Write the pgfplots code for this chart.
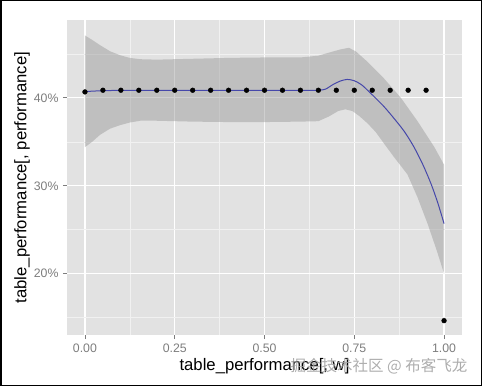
\documentclass[border=0pt]{standalone}
\usepackage{pgfplots}
\pgfplotsset{compat=1.18}
\usepackage{fontspec}
\setmainfont{Liberation Sans}
\newfontfamily\cjk{Noto Sans CJK SC}
\definecolor{panelbg}{RGB}{226,226,226}
\definecolor{minorgrid}{RGB}{241,241,241}
\definecolor{ticktext}{RGB}{125,125,125}
\definecolor{smoothline}{RGB}{70,72,170}
\definecolor{bandfill}{RGB}{150,150,150}
\begin{document}
\begin{tikzpicture}
\begin{axis}[
  at={(67bp,51bp)}, anchor=south west,
  scale only axis, width=395bp, height=315bp,
  xmin=-0.05, xmax=1.05, ymin=13.03, ymax=48.86,
  axis background/.style={fill=panelbg},
  axis line style={draw=none},
  grid=both,
  major grid style={white, line width=1.1bp},
  minor grid style={minorgrid, line width=0.55bp},
  xtick={0,0.25,0.5,0.75,1},
  xticklabels={0.00,0.25,0.50,0.75,1.00},
  minor xtick={0.125,0.375,0.625,0.875},
  ytick={20,30,40},
  yticklabels={20\%,30\%,40\%},
  minor ytick={15,25,35,45},
  tick align=outside, tick pos=left,
  major tick length=4bp, minor tick length=0pt,
  tick style={ticktext, line width=0.8bp},
  ticklabel style={font=\fontsize{12.3bp}{14bp}\selectfont, text=ticktext},
  /pgf/number format/assume math mode=true,
  xticklabel style={yshift=-1bp},
  yticklabel style={xshift=-1bp},
  xlabel={table\_performance[, w]},
  ylabel={table\_performance[, performance]},
  label style={font=\fontsize{16.7bp}{19bp}\selectfont, text=black},
  xlabel style={at={(axis description cs:0.5,-0.098)}, anchor=center},
  ylabel style={at={(axis description cs:-0.114,0.5)}, anchor=center},
]
% data points
\addplot[only marks, mark=*, mark size=2.4bp, black] coordinates {
(0.00,40.68) (0.05,40.87) (0.10,40.87) (0.15,40.87) (0.20,40.87)
(0.25,40.87) (0.30,40.87) (0.35,40.87) (0.40,40.87) (0.45,40.87)
(0.50,40.87) (0.55,40.87) (0.60,40.87) (0.65,40.87) (0.70,40.87)
(0.75,40.87) (0.80,40.87) (0.85,40.87) (0.90,40.87) (0.95,40.87)
(1.00,14.66)};
% confidence band: upper edge left to right, then lower edge right to left
\addplot[fill=bandfill, fill opacity=0.45, draw=none] coordinates {
(0,47.1) (0.02,46.6) (0.042,46.0) (0.07,45.3) (0.098,44.85) (0.125,44.55)
(0.154,44.4) (0.2,44.35) (0.3,44.45) (0.4,44.55) (0.5,44.6) (0.6,44.6)
(0.65,44.8) (0.684,45.2) (0.71,45.5) (0.735,45.7) (0.754,45.3) (0.787,44.1)
(0.833,42.2) (0.88,40.0) (0.927,37.3) (0.973,34.4) (1.0,32.4)
(1.0,20.0) (0.98,22.6) (0.954,25.7) (0.926,28.7) (0.898,31.3) (0.86,33.3)
(0.833,34.8) (0.81,36.1) (0.787,37.1) (0.765,37.9) (0.745,38.5) (0.725,38.7)
(0.705,38.5) (0.68,37.9) (0.65,37.35) (0.6,37.3) (0.5,37.25) (0.4,37.25) (0.3,37.3)
(0.2,37.4) (0.154,37.4) (0.125,37.2) (0.098,36.9) (0.07,36.5) (0.042,35.8)
(0.02,35.0) (0,34.4)} -- cycle;
% smooth line
\addplot[smoothline, line width=1bp, smooth] coordinates {
(0,40.72) (0.05,40.82) (0.1,40.85) (0.2,40.85) (0.3,40.85) (0.4,40.85)
(0.5,40.85) (0.6,40.85) (0.65,40.87) (0.67,41.0) (0.69,41.5) (0.71,41.9)
(0.73,42.1) (0.75,41.95) (0.77,41.5) (0.79,40.75) (0.81,39.95) (0.833,39.0)
(0.86,37.7) (0.889,36.2) (0.915,34.5) (0.94,32.5) (0.964,30.2) (0.983,28.0)
(1.0,25.7)};
\end{axis}
\node[font=\cjk\fontsize{15.5bp}{17bp}\selectfont, text=gray!75, text opacity=0.85, anchor=center] at (379bp,20bp) {掘金技术社区 @ 布客飞龙};
\draw[black, line width=1.5bp] (0.75bp,0.75bp) rectangle (481.25bp,385.25bp);
\path (0,0) rectangle (482bp,386bp);
\end{tikzpicture}
\end{document}
